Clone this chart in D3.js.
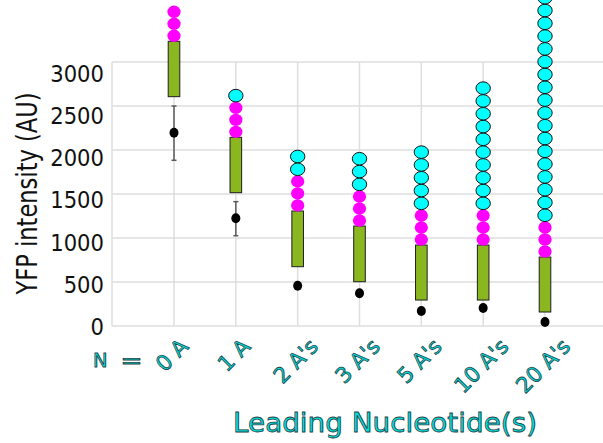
<!DOCTYPE html>
<html>
<head>
<meta charset="utf-8">
<script src="https://cdn.jsdelivr.net/npm/d3@7"></script>
<style>
  html, body { margin: 0; padding: 0; background: #fff; }
  svg { display: block; font-family: "DejaVu Sans", sans-serif; }
</style>
</head>
<body>
<svg id="chart" width="603" height="443"></svg>
<script>
// Constructs with N leading adenosines
const categories = ["0 A", "1 A", "2 A's", "3 A's", "5 A's", "10 A's", "20 A's"];
const leadingCount = [0, 1, 2, 3, 5, 10, 20];
// Start codon glyph: three nucleotides per construct
const codonCount = [3, 3, 3, 3, 3, 3, 3];
// Coding-region box (low / high edge, AU)
const boxLow  = [2606, 1515, 674, 503, 295, 295, 159];
const boxHigh = [3235, 2144, 1307, 1136, 920, 920, 784];
// Measured YFP intensity: mean and error-bar ends (AU)
const yfpMean = [2197, 1224, 458, 372, 170, 205, 45];
const yfpLow  = [1883, 1026, 425, 345, 160, 190, 38];
const yfpHigh = [2500, 1413, 492, 400, 182, 222, 52];
const yTicks = [0, 500, 1000, 1500, 2000, 2500, 3000];

const svg = d3.select("#chart");
const W = 603;
const plotLeft = 112, plotTop = 62, plotBottom = 326;

const y = d3.scaleLinear().domain([0, 3000]).range([plotBottom, plotTop]);
// tick labels sit on their own slightly tighter ladder
const yLabel = d3.scaleLinear().domain([0, 3000]).range([327, 74]);
const x = d3.scalePoint().domain(categories).range([174, 545]);

const gridColor = "#dedede";
const grid = svg.append("g");
grid.selectAll("line.h").data(yTicks).join("line")
  .attr("x1", plotLeft).attr("x2", W)
  .attr("y1", d => y(d)).attr("y2", d => y(d))
  .attr("stroke", gridColor).attr("stroke-width", 1.5);
grid.selectAll("line.v").data(categories).join("line")
  .attr("x1", d => x(d)).attr("x2", d => x(d))
  .attr("y1", plotTop).attr("y2", plotBottom)
  .attr("stroke", gridColor).attr("stroke-width", 1.5);
grid.append("line")
  .attr("x1", plotLeft).attr("x2", plotLeft).attr("y1", plotTop).attr("y2", plotBottom)
  .attr("stroke", gridColor).attr("stroke-width", 1.5);

// y tick labels
const yAxis = d3.axisLeft(yLabel).tickValues(yTicks).tickFormat(d3.format("d"))
  .tickSize(0).tickPadding(0);
const ya = svg.append("g").attr("transform", "translate(104,0)").call(yAxis);
ya.select(".domain").remove();
ya.selectAll("text").attr("font-size", 23).attr("fill", "#111")
  .attr("font-family", "DejaVu Sans").attr("transform", "scale(0.92,1)");

// y title
svg.append("text")
  .attr("transform", "translate(37,193.5) rotate(-90) scale(1,1.22)")
  .attr("text-anchor", "middle")
  .attr("font-size", 22.6).attr("fill", "#111")
  .text("YFP intensity (AU)");

const idx = d3.range(categories.length);

// error bars
const err = svg.append("g").attr("stroke", "#5a5a5a").attr("stroke-width", 1.5);
idx.forEach(i => {
  const cx = x(categories[i]);
  err.append("line").attr("x1", cx).attr("x2", cx).attr("y1", y(yfpLow[i])).attr("y2", y(yfpHigh[i]));
  [yfpLow[i], yfpHigh[i]].forEach(v => {
    err.append("line").attr("x1", cx - 2.5).attr("x2", cx + 2.5).attr("y1", y(v)).attr("y2", y(v));
  });
});

// mean markers
svg.append("g").selectAll("ellipse").data(idx).join("ellipse")
  .attr("cx", i => x(categories[i])).attr("cy", i => y(yfpMean[i]))
  .attr("rx", 4.5).attr("ry", 5).attr("fill", "#000");

// coding boxes
svg.append("g").selectAll("rect").data(idx).join("rect")
  .attr("x", i => x(categories[i]) - 5.8).attr("width", 11.6)
  .attr("y", i => y(boxHigh[i])).attr("height", i => y(boxLow[i]) - y(boxHigh[i]))
  .attr("fill", "#8ab71f").attr("stroke", "#1e1e1e").attr("stroke-width", 1);

// nucleotide beads stacked on top of each box
const beads = svg.append("g");
idx.forEach(i => {
  const cx = x(categories[i]);
  let cy = y(boxHigh[i]) - 5.5;
  for (let k = 0; k < codonCount[i]; k++) {
    beads.append("ellipse").attr("cx", cx).attr("cy", cy)
      .attr("rx", 6.6).attr("ry", 6.2).attr("fill", "#ff00ff");
    if (k < codonCount[i] - 1) cy -= 12;
  }
  cy -= 12.2;
  for (let k = 0; k < leadingCount[i]; k++) {
    beads.append("ellipse").attr("cx", cx).attr("cy", cy)
      .attr("rx", 7.2).attr("ry", 6.3).attr("fill", "#00ffff")
      .attr("stroke", "#111").attr("stroke-width", 1);
    cy -= 12.8;
  }
});

// x labels: outlined teal text
const outline = sel => sel.attr("fill", "#00e0e0").attr("stroke", "#224444")
  .attr("stroke-width", 0.8);

const xl = svg.append("g");
idx.forEach(i => {
  const t = xl.append("text")
    .attr("text-anchor", "middle").attr("dominant-baseline", "central")
    .attr("font-size", 21.5).text(categories[i]).call(outline);
  const w = t.node().getComputedTextLength();
  const h = 15.5;
  const half = (w + h) / (2 * Math.SQRT2);
  t.attr("transform", `translate(${x(categories[i]) - 2},${337 + half}) rotate(-45)`);
});

svg.append("text").attr("x", 93).attr("y", 367)
  .attr("font-size", 19.5).text("N").call(outline);
svg.append("text").attr("x", 120.5).attr("y", 367)
  .attr("font-size", 19.5).attr("textLength", 22).attr("lengthAdjust", "spacingAndGlyphs")
  .text("=").call(outline);

svg.append("text").attr("x", 233).attr("y", 432)
  .attr("font-size", 25.8).attr("textLength", 304).attr("lengthAdjust", "spacingAndGlyphs")
  .text("Leading Nucleotide(s)").call(outline);
</script>
</body>
</html>
